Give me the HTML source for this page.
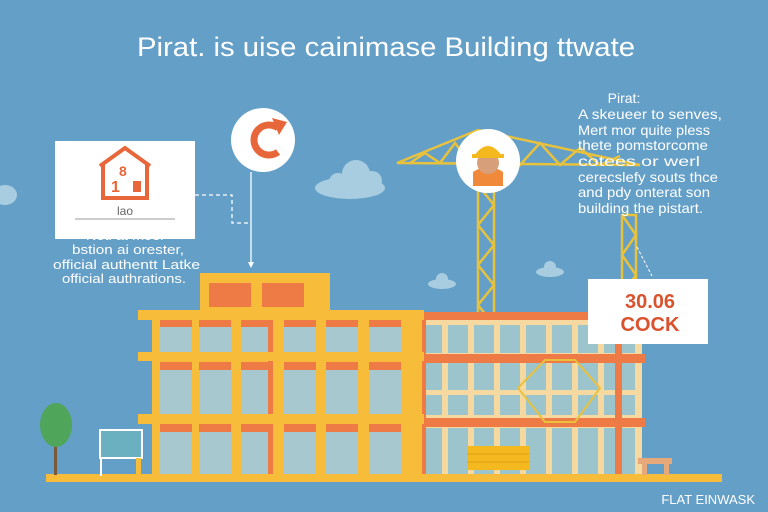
<!DOCTYPE html>
<html><head><meta charset="utf-8"><style>
html,body{margin:0;padding:0;background:#649fc8;}
svg{display:block;font-family:"Liberation Sans",sans-serif;}
</style></head><body>
<svg width="768" height="512" viewBox="0 0 768 512" xmlns="http://www.w3.org/2000/svg">
<rect width="768" height="512" fill="#649fc8"/>
<text x="137" y="56" font-size="27" fill="#fff" textLength="498" lengthAdjust="spacingAndGlyphs">Pirat. is uise cainimase Building ttwate</text>

<!-- clouds -->
<g fill="#a9cde0">
<ellipse cx="350" cy="188" rx="35" ry="11"/><circle cx="356" cy="174" r="14"/><circle cx="338" cy="182" r="9"/><circle cx="372" cy="181" r="10"/>
<ellipse cx="550" cy="272" rx="14" ry="5"/><circle cx="550" cy="267" r="6"/>
<ellipse cx="442" cy="284" rx="14" ry="5"/><circle cx="442" cy="279" r="6"/>
<ellipse cx="5" cy="195" rx="12" ry="10"/>
</g>

<!-- left box -->
<rect x="55" y="141" width="140" height="98" fill="#fff"/>
<path d="M100 166 L125 148 L150 166 M103 164 V198 H147 V164" fill="none" stroke="#e8673a" stroke-width="4"/>
<text x="119" y="176" font-size="14" font-weight="bold" fill="#e8673a">8</text>
<text x="111" y="192" font-size="16" font-weight="bold" fill="#e8673a">1</text>
<rect x="133" y="181" width="8" height="11" fill="#e8673a"/>
<text x="125" y="215" text-anchor="middle" font-size="12" fill="#666">lao</text>
<line x1="75" y1="219" x2="175" y2="219" stroke="#999" stroke-width="1"/>
<g font-size="13" fill="#fff">
<text x="86" y="240" textLength="79" lengthAdjust="spacingAndGlyphs">Notl at moer</text>
<text x="72" y="254" textLength="112" lengthAdjust="spacingAndGlyphs">bstion ai orester,</text>
<text x="53" y="269" textLength="147" lengthAdjust="spacingAndGlyphs">official authentt Latke</text>
<text x="62" y="283" textLength="124" lengthAdjust="spacingAndGlyphs">official authrations.</text>
</g>

<!-- connectors -->
<path d="M195 195 H232 V223 H250" fill="none" stroke="#fff" stroke-width="1.3" stroke-dasharray="4 3"/>
<line x1="251" y1="172" x2="251" y2="263" stroke="#fff" stroke-width="1.3"/>
<path d="M248 262 L254 262 L251 268 Z" fill="#fff"/>
<circle cx="263" cy="140" r="32" fill="#fff"/>
<path d="M278 128 A15 15 0 1 0 278 152" fill="none" stroke="#e8673a" stroke-width="7"/>
<path d="M272 118 L287 122 L279 135 Z" fill="#e8673a"/>

<!-- cranes -->
<g stroke="#e8c23d" stroke-width="2.5" fill="none">
<path d="M397 163 L478 130 L640 165 Z"/>
<path d="M410 163 L425 153 L440 163 L455 143 L470 163 M500 135 L520 165 L540 143 L560 165 L580 148 L600 165 L620 156"/>
<rect x="478" y="185" width="16" height="295"/>
<path d="M478 185 L494 205 L478 225 L494 245 L478 265 L494 285 L478 305 L494 325 L478 345 L494 365 L478 385 L494 405 L478 425 L494 445 L478 465"/>
<rect x="622" y="215" width="14" height="255"/>
<path d="M622 215 L636 235 L622 255 L636 275 L622 295 L636 315 L622 335 L636 355 L622 375 L636 395 L622 415 L636 435 L622 455"/>
</g>
<line x1="637" y1="247" x2="652" y2="276" stroke="#fff" stroke-width="1" stroke-dasharray="3 2"/>
<line x1="578" y1="338" x2="565" y2="358" stroke="#fff" stroke-width="1" stroke-dasharray="3 2"/>
<circle cx="488" cy="161" r="32" fill="#fff"/>
<path d="M473 172 Q488 162 503 172 L503 186 L473 186 Z" fill="#f0893a"/>
<circle cx="488" cy="163" r="11" fill="#d8a07a"/>
<path d="M474 156 Q488 136 502 156 Z" fill="#f5b920"/>
<rect x="472" y="154" width="32" height="4" fill="#f5b920"/>

<!-- right text -->
<g font-size="14" fill="#fff">
<text x="624" y="103" text-anchor="middle">Pirat:</text>
<text x="578" y="119" textLength="144" lengthAdjust="spacingAndGlyphs">A skeueer to senves,</text>
<text x="578" y="135" textLength="132" lengthAdjust="spacingAndGlyphs">Mert mor quite pless</text>
<text x="578" y="150" textLength="130" lengthAdjust="spacingAndGlyphs">thete pomstorcome</text>
<text x="578" y="166" textLength="122" lengthAdjust="spacingAndGlyphs">cotees   or werl</text>
<text x="578" y="182" textLength="140" lengthAdjust="spacingAndGlyphs">cerecslefy souts thce</text>
<text x="578" y="197" textLength="132" lengthAdjust="spacingAndGlyphs">and pdy onterat son</text>
<text x="578" y="213" textLength="125" lengthAdjust="spacingAndGlyphs">building the pistart.</text>
</g>

<!-- building right part -->
<rect x="420" y="312" width="222" height="164" fill="#f6d9a0"/>
<g fill="#9cc4cc">
<rect x="425" y="325" width="210" height="28"/><rect x="425" y="363" width="210" height="52"/><rect x="425" y="428" width="210" height="46"/>
</g>
<g fill="#f6d9a0">
<rect x="442" y="320" width="6" height="156"/><rect x="468" y="320" width="6" height="156"/><rect x="494" y="320" width="6" height="156"/><rect x="520" y="320" width="6" height="156"/><rect x="546" y="320" width="6" height="156"/><rect x="572" y="320" width="6" height="156"/><rect x="598" y="320" width="6" height="156"/>
<rect x="425" y="390" width="210" height="5"/>
</g>
<g fill="#ee7a45">
<rect x="420" y="312" width="222" height="8"/><rect x="420" y="354" width="225" height="9"/><rect x="420" y="418" width="225" height="9"/>
<rect x="420" y="312" width="6" height="164"/><rect x="615" y="312" width="7" height="164"/>
</g>
<path d="M518 388 L545 360 L575 360 L600 388 L575 422 L545 422 Z" fill="none" stroke="#e8c23d" stroke-width="2"/>

<!-- building left part -->
<rect x="200" y="273" width="130" height="40" fill="#f7bd3a"/>
<rect x="209" y="283" width="42" height="24" fill="#ee7a45"/><rect x="262" y="283" width="42" height="24" fill="#ee7a45"/>
<rect x="152" y="318" width="270" height="158" fill="#f7bd3a"/>
<g fill="#a7c8cf">
<rect x="160" y="327" width="32" height="25"/><rect x="199" y="327" width="32" height="25"/><rect x="241" y="327" width="32" height="25"/><rect x="284" y="327" width="32" height="25"/><rect x="326" y="327" width="32" height="25"/><rect x="369" y="327" width="32" height="25"/>
<rect x="160" y="370" width="32" height="44"/><rect x="199" y="370" width="32" height="44"/><rect x="241" y="370" width="32" height="44"/><rect x="284" y="370" width="32" height="44"/><rect x="326" y="370" width="32" height="44"/><rect x="369" y="370" width="32" height="44"/>
<rect x="160" y="432" width="32" height="42"/><rect x="199" y="432" width="32" height="42"/><rect x="241" y="432" width="32" height="42"/><rect x="284" y="432" width="32" height="42"/><rect x="326" y="432" width="32" height="42"/><rect x="369" y="432" width="32" height="42"/>
</g>
<g fill="#ee7a45">
<rect x="160" y="320" width="32" height="7"/><rect x="199" y="320" width="32" height="7"/><rect x="241" y="320" width="32" height="7"/><rect x="284" y="320" width="32" height="7"/><rect x="326" y="320" width="32" height="7"/><rect x="369" y="320" width="32" height="7"/>
<rect x="160" y="362" width="32" height="8"/><rect x="199" y="362" width="32" height="8"/><rect x="241" y="362" width="32" height="8"/><rect x="284" y="362" width="32" height="8"/><rect x="326" y="362" width="32" height="8"/><rect x="369" y="362" width="32" height="8"/>
<rect x="160" y="424" width="32" height="8"/><rect x="199" y="424" width="32" height="8"/><rect x="241" y="424" width="32" height="8"/><rect x="284" y="424" width="32" height="8"/><rect x="326" y="424" width="32" height="8"/><rect x="369" y="424" width="32" height="8"/>
<rect x="268" y="320" width="5" height="156"/>
</g>
<g fill="#f7bd3a">
<rect x="138" y="310" width="286" height="10"/><rect x="138" y="352" width="286" height="9"/><rect x="138" y="414" width="286" height="10"/>
</g>

<!-- ground and extras -->
<rect x="46" y="474" width="676" height="8" fill="#f7bd3a"/>
<rect x="54" y="430" width="3" height="45" fill="#7a5a3a"/>
<ellipse cx="56" cy="425" rx="16" ry="22" fill="#4fa55a"/>
<rect x="100" y="430" width="42" height="28" fill="#6ab0c0" stroke="#fff" stroke-width="2"/>
<line x1="101" y1="458" x2="101" y2="476" stroke="#fff" stroke-width="2"/>
<rect x="136" y="458" width="5" height="16" fill="#f7bd3a"/>
<rect x="467" y="446" width="62" height="24" fill="#f5b920"/>
<line x1="467" y1="454" x2="529" y2="454" stroke="#e0a010"/><line x1="467" y1="462" x2="529" y2="462" stroke="#e0a010"/>
<rect x="638" y="458" width="34" height="6" fill="#e7a87a"/><rect x="642" y="464" width="5" height="11" fill="#e7a87a"/><rect x="664" y="464" width="5" height="11" fill="#e7a87a"/>

<!-- 30.06 box -->
<rect x="588" y="279" width="120" height="65" fill="#fff"/>
<g font-size="20" font-weight="bold" fill="#d9532f" text-anchor="middle">
<text x="650" y="308">30.06</text><text x="650" y="331">COCK</text>
</g>

<text x="755" y="504" text-anchor="end" font-size="13" fill="#fff">FLAT EINWASK</text>
</svg>
</body></html>
